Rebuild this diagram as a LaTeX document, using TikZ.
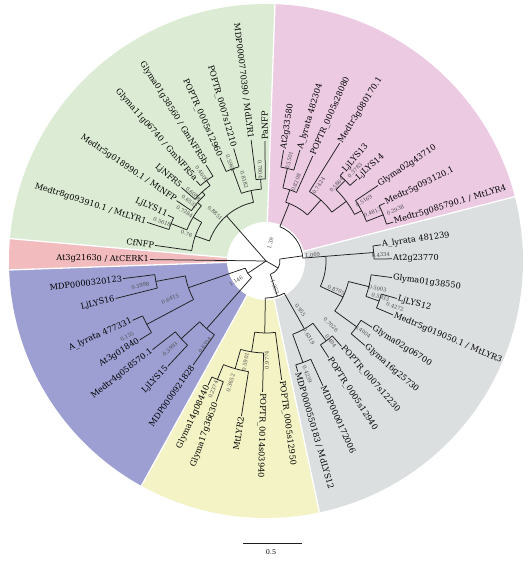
\documentclass[tikz,border=0pt]{standalone}
\usepackage{fontspec}
\setmainfont{DejaVu Serif}
\definecolor{cgreen}{HTML}{DCEBD3}
\definecolor{cred}{HTML}{F2BCBF}
\definecolor{cblue}{HTML}{9D9FD3}
\definecolor{cyellow}{HTML}{F3F3C6}
\definecolor{cgray}{HTML}{DCDFE0}
\definecolor{cpink}{HTML}{EBCAE2}
\tikzset{
  branch/.style={draw=black!88, line width=0.75pt},
  leaf/.style={inner sep=1pt, font=\fontsize{8.2}{9}\selectfont, text=black},
  bval/.style={inner sep=0pt, font=\fontsize{5.2}{5.2}\selectfont, text=black!70},
  sep/.style={draw=white, line width=1.3pt},
}
% internal node: name, angle, r, parent r, arc start, arc end
\newcommand\inode[6]{%
  \coordinate (#1-in) at (#2:#4);
  \coordinate (#1) at (#2:#3);
  \draw[branch] (#1-in) -- (#1);
  \draw[branch] (#5:#3) arc[start angle=#5, end angle=#6, radius=#3pt];
}
% leaf, label on right side: name, angle, tip r, parent r, text
\newcommand\leafR[5]{%
  \coordinate (#1-in) at (#2:#4);
  \node[leaf, anchor=west, rotate=#2] (#1) at (#2:#3) {#5};
  \draw[branch] (#1-in) -- (#1.west);
}
\newcommand\leafL[5]{%
  \coordinate (#1-in) at (#2:#4);
  \node[leaf, anchor=east, rotate=#2-180] (#1) at (#2:#3) {#5};
  \draw[branch] (#1-in) -- (#1.east);
}
\newcounter{bvn}
\newcommand\bvR[3]{\stepcounter{bvn}\node[bval, rotate=#1] (bv\arabic{bvn}) at (#1:#2) {#3};}
\newcommand\bvL[3]{\stepcounter{bvn}\node[bval, rotate=#1-180] (bv\arabic{bvn}) at (#1:#2) {#3};}
\begin{document}
\begin{tikzpicture}[x=1pt,y=1pt]
\useasboundingbox (-266,-300) rectangle (265,261);
% sectors
\fill[cgreen] (0,0) -- (88:257) arc[start angle=88, end angle=175, radius=257pt] -- cycle;
\fill[cred] (0,0) -- (175:257) arc[start angle=175, end angle=182, radius=257pt] -- cycle;
\fill[cblue] (0,0) -- (182:257) arc[start angle=182, end angle=241, radius=257pt] -- cycle;
\fill[cyellow] (0,0) -- (241:257) arc[start angle=241, end angle=282, radius=257pt] -- cycle;
\fill[cgray] (0,0) -- (282:257) arc[start angle=282, end angle=374.5, radius=257pt] -- cycle;
\fill[cpink] (0,0) -- (14.5:257) arc[start angle=14.5, end angle=88, radius=257pt] -- cycle;
\foreach \a in {88,175,182,241,282,14.5} \draw[sep] (0,0) -- (\a:258);
\fill[white] (0,0) circle[radius=39pt];
\coordinate (root) at (0,0);

% ---------- green ----------
\inode{G}{131.2}{60}{0}{102}{160.5}
\inode{gU}{102}{72}{60}{93.75}{110}
\inode{gPM}{93.75}{82}{72}{90.5}{97}
\leafR{PaNFP}{90.5}{120}{82}{PaNFP}
\leafL{MdLYR1}{97}{122}{82}{MDP0000770390 / MdLYR1}
\inode{g1}{110}{98}{72}{106}{114}
\leafL{P12210}{106}{117}{98}{POPTR\_0007s12210}
\leafL{P12960}{114}{113}{98}{POPTR\_0005s12960}
\inode{gL}{160.5}{75}{60}{149}{172}
\leafL{CfNFP}{172}{112}{75}{CfNFP}
\inode{X}{149}{85}{75}{139.5}{158.5}
\inode{g7}{158.5}{102}{85}{155}{162}
\leafL{LjLYS11}{155}{108}{102}{LjLYS11}
\leafL{MtLYR1}{162}{125}{102}{Medtr8g093910.1 / MtLYR1}
\inode{Y2}{139.5}{90}{85}{132.75}{146}
\leafL{MtNFP}{146}{108}{90}{Medtr5g018990.1 / MtNFP}
\inode{Z}{132.75}{94}{90}{126.5}{139}
\leafL{LjNFR5}{139}{112}{94}{LjNFR5}
\inode{g4}{126.5}{100}{94}{122}{131}
\leafL{GmNFR5b}{122}{113}{100}{Glyma01g38560 / GmNFR5b}
\leafL{GmNFR5a}{131}{106}{100}{Glyma11g06740 / GmNFR5a}
\bvL{93.6}{92}{0.7804}
\bvL{105}{84}{0.8182}
\bvL{110}{104}{0.5961}
\bvL{126.5}{108}{0.4606}
\bvL{137.3}{99}{0.6088}
\bvL{142}{97}{0.6532}
\bvL{136.7}{70}{0.8851}
\bvL{148.8}{95}{0.7284}
\bvL{159.4}{111}{0.5618}
\bvL{161}{84}{0.76}

% ---------- red ----------
\leafL{AtCERK1}{179.3}{116}{0}{At3g21630 / AtCERK1}

% ---------- blue ----------
\inode{B}{214}{22}{0}{199}{228.75}
\inode{b2}{199}{82}{22}{190.5}{208}
\inode{b1}{190.5}{112}{82}{187}{194}
\leafL{MDP320123}{187}{144}{112}{MDP0000320123}
\leafL{LjLYS16}{194}{155}{112}{LjLYS16}
\inode{b3}{208}{135}{82}{204}{212}
\leafL{Alyr477331}{204}{146}{135}{A\_lyrata 477331}
\leafL{At3g01840}{212}{149}{135}{At3g01840}
\inode{b5}{228.75}{90}{22}{222.5}{235}
\inode{b4}{222.5}{115}{90}{218}{227}
\leafL{Medtr4g058570}{218}{144}{115}{Medtr4g058570.1}
\leafL{LjLYS15}{227}{144}{115}{LjLYS15}
\leafL{MDP921828}{235}{127}{90}{MDP0000921828}
\bvL{191}{128}{0.3998}
\bvL{201.6}{103}{0.6415}
\bvL{208.5}{158}{0.155}
\bvL{222.5}{130}{0.3993}
\bvL{234}{104}{0.6334}
\bvL{213.7}{36}{1.146}

% ---------- inner node joining pink, gray and yellow ----------
\inode{R2}{-30}{14}{0}{-72}{8}
\bvR{75.6}{18}{1.39}

% ---------- pink + gray (upper) ----------
\inode{A}{8}{37}{14}{4.5}{68}
\inode{P}{68}{62}{37}{48}{71.5}
\inode{p2}{71.5}{75}{62}{66}{77}
\leafR{P28080}{66}{115}{75}{POPTR\_0005s28080}
\inode{p1}{77}{95}{75}{73}{81}
\leafR{Alyr482304}{73}{116}{95}{A\_lyrata 482304}
\leafR{At2g33580}{81}{112}{95}{At2g33580}
\inode{p7}{48}{82}{62}{36.6}{58}
\leafR{Medtr3g080170}{58}{139}{82}{Medtr3g080170.1}
\inode{p6}{36.6}{100}{82}{27.75}{45.5}
\inode{p3}{45.5}{113}{100}{42}{49}
\leafR{LjLYS14}{42}{122}{113}{LjLYS14}
\leafR{LjLYS13}{49}{118}{113}{LjLYS13}
\inode{p5}{27.75}{108}{100}{21.5}{34}
\leafR{Glyma02g43710}{34}{135}{108}{Glyma02g43710}
\inode{p4}{21.5}{126}{108}{17}{26}
\leafR{Medtr5g093120}{26}{132}{126}{Medtr5g093120.1}
\leafR{MtLYR4}{17}{133}{126}{Medtr5g085790.1 / MtLYR4}
\bvR{77}{103}{0.5501}
\bvR{69}{84}{0.8208}
\bvR{55}{92}{0.7424}
\bvR{47.2}{104}{0.5864}
\bvR{45.5}{127}{0.3783}
\bvR{31.5}{115}{0.5169}
\bvR{24.5}{117}{0.4813}
\bvR{21.5}{139}{0.2938}

\inode{GU}{4.5}{60}{37}{-25}{4.5}
\inode{y1}{4.5}{108}{60}{1}{8}
\leafR{At2g23770}{1}{126}{108}{At2g23770}
\leafR{Alyr481239}{8}{116}{108}{A\_lyrata 481239}
\inode{y4}{-25}{85}{60}{-36}{-14}
\inode{y2}{-14}{106}{85}{-19.5}{-7.5}
\leafR{Glyma01g38550}{-7.5}{127}{106}{Glyma01g38550}
\inode{y2a}{-19.5}{120}{106}{-23}{-16}
\leafR{LjLYS12}{-16}{136}{120}{LjLYS12}
\leafR{MtLYR3}{-23}{138}{120}{Medtr5g019050.1 / MtLYR3}
\inode{y3}{-36}{112}{85}{-40.5}{-32}
\leafR{Glyma02g06700}{-32}{125}{112}{Glyma02g06700}
\leafR{Glyma16g25730}{-40.5}{130}{112}{Glyma16g25730}
\bvR{3}{115}{0.4334}
\bvR{7.3}{47}{1.069}
\bvR{-22.5}{76}{0.8705}
\bvR{-13.8}{115}{0.5003}
\bvR{-17.6}{120}{0.5933}
\bvR{-19.5}{137}{0.4272}
\bvR{-36.2}{120}{0.4004}
\bvR{-44.5}{91}{0.7026}

% ---------- yellow + gray (lower) ----------
\inode{Yn}{288}{37}{14}{269}{299.5}
\inode{yl4}{269}{72}{37}{261}{277.5}
\leafR{P12950}{277.5}{120}{72}{POPTR\_0005s12950}
\inode{yl3}{261}{92}{72}{254}{268.5}
\leafR{P03940}{268.5}{131}{92}{POPTR\_0014s03940}
\inode{yl2}{254}{112}{92}{247.7}{261}
\leafL{MtLYR2}{261}{157}{112}{MtLYR2}
\inode{yl1}{247.7}{128}{112}{245}{250.5}
\leafL{Glyma14g08440}{245}{137}{128}{Glyma14g08440}
\leafL{Glyma17g36630}{250.5}{149}{128}{Glyma17g36630}
\inode{y8}{299.5}{78}{37}{290}{307}
\inode{y6}{290}{108}{78}{286}{294.5}
\leafR{MdLYS12}{286}{115}{108}{MDP0000550183 / MdLYS12}
\leafR{MDP172006}{294.5}{137}{108}{MDP0000172006}
\inode{y7}{307}{100}{78}{303}{311.5}
\leafR{P12940}{303}{115}{100}{POPTR\_0005s12940}
\leafR{P12230}{311.5}{114}{100}{POPTR\_0007s12230}
\bvL{247.7}{139}{0.2374}
\bvL{253.8}{127}{0.3652}
\bvL{258.5}{103}{0.5901}
\bvL{270.5}{99}{0.9774}
\bvR{-55}{60}{0.955}
\bvR{-60.5}{87}{0.6319}
\bvR{-51}{103}{0.494}
\bvR{-70}{121}{0.4239}
\bvR{-71}{27.5}{1.253}

% ---------- scale bar ----------
\coordinate (sbL) at (-23,-282);
\coordinate (sbR) at (36,-282);
\draw[branch] (sbL) -- (sbR);
\node[inner sep=0pt, font=\fontsize{6.5}{6.5}\selectfont] (sblab) at (5,-291) {0.5};
\end{tikzpicture}
\end{document}
